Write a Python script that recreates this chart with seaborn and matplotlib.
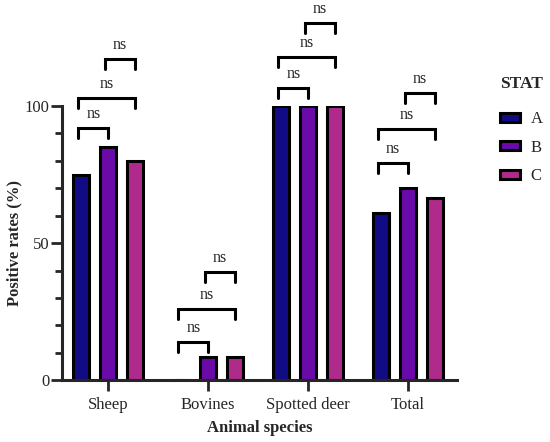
import matplotlib
matplotlib.use("Agg")
import matplotlib.pyplot as plt
from matplotlib.ticker import MultipleLocator
import seaborn as sns
import pandas as pd

# data
species = ["Sheep", "Bovines", "Spotted deer", "Total"]
stat_a = [75, 0, 100, 61]
stat_b = [85, 8.5, 100, 70]
stat_c = [80, 8.5, 100, 66.5]
groups = ["A", "B", "C"]
colors = ["#110c86", "#6a0aa8", "#b02a8c"]

# bracket heights per species: A-B, A-C, B-C
pairs = [(0, 1), (0, 2), (1, 2)]
bracket_y = [
    [92, 103, 117],
    [14, 26, 39.5],
    [106.7, 117.8, 130.4],
    [79.3, 91.5, 104.6],
]

df = pd.DataFrame({
    "species": species * 3,
    "STAT": [g for g in groups for _ in species],
    "rate": stat_a + stat_b + stat_c,
})

sns.set_style("ticks")
plt.rcParams["font.family"] = ["Liberation Serif", "DejaVu Serif"]

fig = plt.figure(figsize=(5.5, 4.42), dpi=100)
ax = fig.add_axes([0.113, 0.140, 0.718, 0.620])

sns.barplot(data=df, x="species", y="rate", hue="STAT", order=species,
            hue_order=groups, palette=colors, width=0.8, gap=0.4,
            edgecolor="black", linewidth=2.2, saturation=1, ax=ax)

ax.set_ylim(0, 100)
ax.set_xlim(-0.46, 3.49)
ax.yaxis.set_major_locator(MultipleLocator(50))
ax.yaxis.set_minor_locator(MultipleLocator(10))
ax.tick_params(axis="y", which="major", length=8, width=2, labelsize=12, pad=1)
ax.tick_params(axis="y", which="minor", length=5, width=2)
ax.tick_params(axis="x", length=8, width=2, labelsize=12, pad=4)
for s in ["left", "bottom"]:
    ax.spines[s].set_linewidth(2.2)
sns.despine(ax=ax)

ax.set_ylabel("Positive rates (%)", fontsize=12, fontweight="bold", labelpad=2)
ax.set_xlabel("Animal species", fontsize=12, fontweight="bold", labelpad=5)

# bar centers from the drawn patches, per hue level
centers = {}
for gi, cont in enumerate(ax.containers):
    centers[gi] = [b.get_x() + b.get_width() / 2 for b in cont]

leg_h = 3.6
for si in range(len(species)):
    for (i, j), y in zip(pairs, bracket_y[si]):
        x0 = centers[i][si] - 0.03
        x1 = centers[j][si]
        ax.plot([x0, x0, x1, x1], [y - leg_h, y, y, y - leg_h], color="black",
                lw=2.2, clip_on=False, solid_joinstyle="miter")
        ax.text((x0 + x1) / 2, y + 2.2, "ns", ha="center", va="bottom",
                fontsize=11.5, clip_on=False)

leg = ax.legend(title="STAT", loc="upper left", bbox_to_anchor=(1.07, 1.165),
                frameon=False, fontsize=12, handlelength=1.2, handleheight=0.45,
                labelspacing=0.75, handletextpad=0.65)
leg.get_title().set_fontweight("bold")
leg.get_title().set_fontsize(12.5)
leg._legend_box.align = "left"
leg._legend_box.sep = 14

fig.savefig("out.png", dpi=100)
